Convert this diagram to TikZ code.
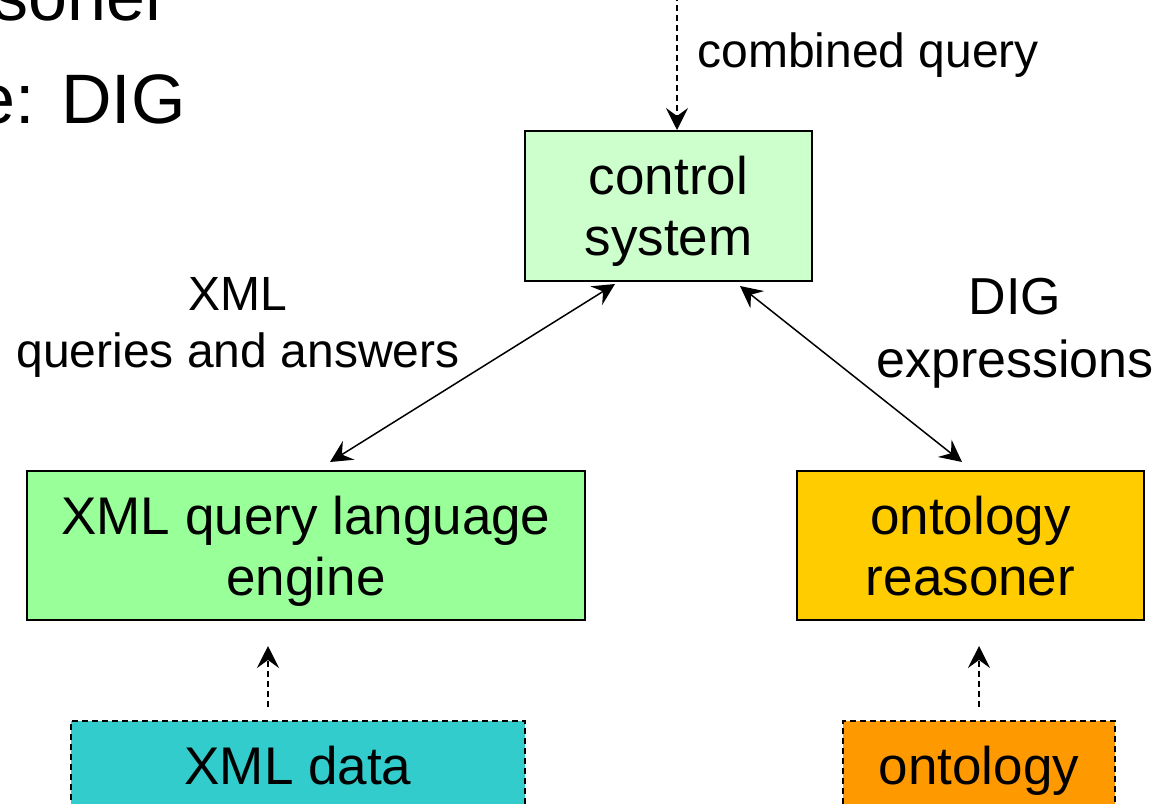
\documentclass[tikz,border=0pt]{standalone}
\usepackage{fontspec}
\setmainfont{Liberation Sans}
\usetikzlibrary{arrows.meta, positioning}

\definecolor{ctrlgreen}{HTML}{CCFFCC}
\definecolor{enginegreen}{HTML}{99FF99}
\definecolor{reasoneryellow}{HTML}{FFCC00}
\definecolor{datacyan}{HTML}{33CCCC}
\definecolor{ontoorange}{HTML}{FF9900}

\begin{document}
\begin{tikzpicture}[
    x = 0.5pt, y = -0.5pt,
    > = {Stealth[length=11pt, width=11pt, inset=4pt]}
]
    \tikzstyle{block} = [draw, line width=1pt, rectangle, align=center, inner sep=0pt,
        text depth=0pt, font=\fontsize{26.5}{30.5}\selectfont];
    \tikzstyle{source} = [block, dash pattern=on 3pt off 2pt];
    \tikzstyle{link} = [line width=0.75pt, <->];
    \tikzstyle{feed} = [line width=0.75pt, ->, dash pattern=on 3pt off 2pt];
    \tikzstyle{note} = [align=center, inner sep=0pt, text depth=0pt, font=\fontsize{24}{28.5}\selectfont];

    \useasboundingbox (0, 0) rectangle (1174, 804);
    \clip (0, 0) rectangle (1174, 804);

    % title fragments
    \node[anchor=base east, inner sep=0pt, font=\fontsize{35}{40}\selectfont] (title1) at (169, 20) {soner};
    \node[anchor=base east, inner sep=0pt, font=\fontsize{35}{40}\selectfont] (title2) at (186, 123) {e: DIG};

    \node[block, fill=ctrlgreen, minimum width=143.5pt, minimum height=75pt] (ctrl) at (668.5, 206) {control\\system};
    \node[block, fill=enginegreen, minimum width=279pt, minimum height=74.5pt] (engine) at (306, 545.5) {XML query language\\engine};
    \node[block, fill=reasoneryellow, minimum width=173.5pt, minimum height=74.5pt] (reasoner) at (970.5, 545.5) {ontology\\reasoner};
    \node[source, fill=datacyan, minimum width=227pt, minimum height=44.5pt] (xdata) at (298, 765.5) {XML data};
    \node[source, fill=ontoorange, minimum width=136pt, minimum height=44.5pt] (onto) at (979, 765.5) {ontology};

    \coordinate (query) at (677, -5);
    \node[note, anchor=base west] (querylabel) at (697, 67) {combined query};
    \node[note] (xmllabel) at (238, 322) {XML\\queries and answers};
    \node[note, font=\fontsize{26}{31.5}\selectfont] (diglabel) at (1015, 328) {DIG\\expressions};

    \draw[feed] (query) -- ([xshift=4.25pt]ctrl.north);
    \draw[link] ([xshift=12pt, yshift=4pt]engine.north) -- ([xshift=-26.75pt, yshift=-1pt]ctrl.south);
    \draw[link] ([xshift=35.75pt, yshift=-2pt]ctrl.south) -- ([xshift=-4.25pt, yshift=4pt]reasoner.north);
    \draw[feed] ([xshift=-15pt, yshift=6.5pt]xdata.north) -- ([xshift=-19pt, yshift=-12.5pt]engine.south);
    \draw[feed] ([yshift=6.5pt]onto.north) -- ([xshift=4.25pt, yshift=-12.5pt]reasoner.south);
\end{tikzpicture}
\end{document}
